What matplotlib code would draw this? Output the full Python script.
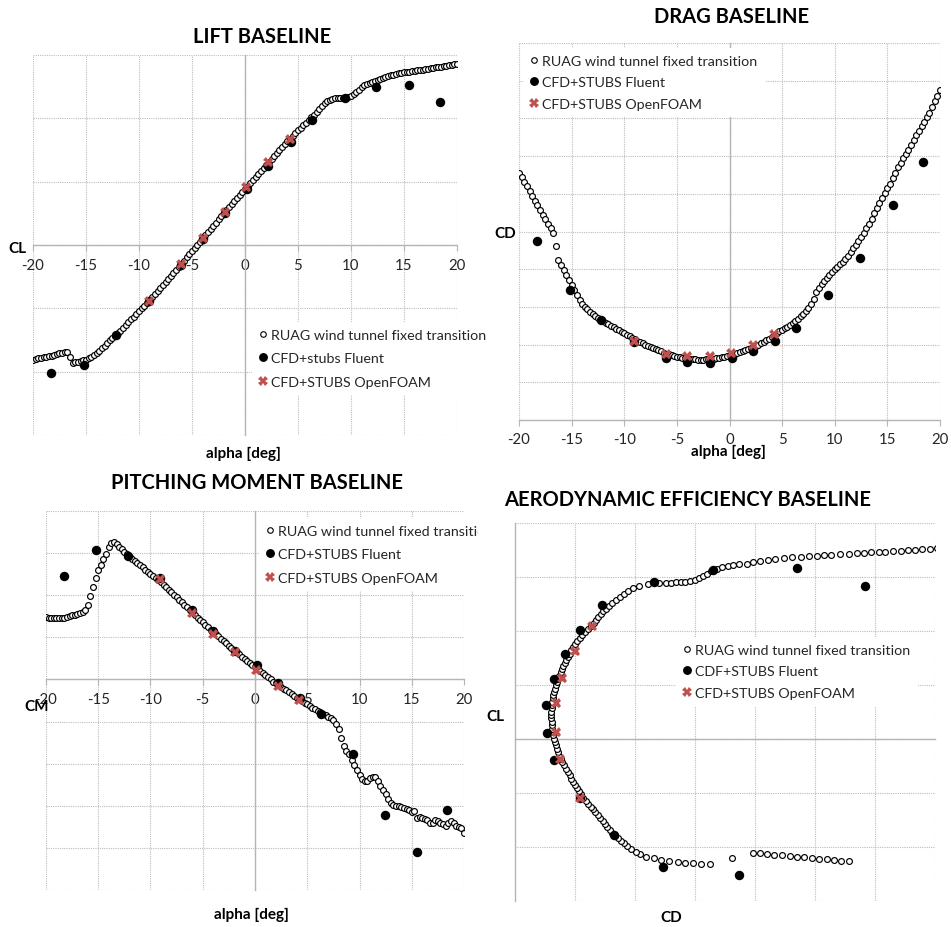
import numpy as np
import matplotlib
matplotlib.use("Agg")
import matplotlib.pyplot as plt
from matplotlib.transforms import Bbox
from matplotlib.lines import Line2D

plt.rcParams['font.family'] = ['Lato', 'DejaVu Sans']
plt.rcParams['axes.unicode_minus'] = False

# wind tunnel sweep (RUAG, fixed transition)
alpha = [-20.0, -19.75, -19.5, -19.25, -19.0, -18.75, -18.5, -18.25, -18.0, -17.75,
         -17.5, -17.25, -17.0, -16.75, -16.5, -16.25, -16.0, -15.75, -15.5, -15.25,
         -15.0, -14.75, -14.5, -14.25, -14.0, -13.75, -13.5, -13.25, -13.0, -12.75,
         -12.5, -12.25, -12.0, -11.75, -11.5, -11.25, -11.0, -10.75, -10.5, -10.25,
         -10.0, -9.75, -9.5, -9.25, -9.0, -8.75, -8.5, -8.25, -8.0, -7.75,
         -7.5, -7.25, -7.0, -6.75, -6.5, -6.25, -6.0, -5.75, -5.5, -5.25,
         -5.0, -4.75, -4.5, -4.25, -4.0, -3.75, -3.5, -3.25, -3.0, -2.75,
         -2.5, -2.25, -2.0, -1.75, -1.5, -1.25, -1.0, -0.75, -0.5, -0.25,
         0.0, 0.25, 0.5, 0.75, 1.0, 1.25, 1.5, 1.75, 2.0, 2.25,
         2.5, 2.75, 3.0, 3.25, 3.5, 3.75, 4.0, 4.25, 4.5, 4.75,
         5.0, 5.25, 5.5, 5.75, 6.0, 6.25, 6.5, 6.75, 7.0, 7.25,
         7.5, 7.75, 8.0, 8.25, 8.5, 8.75, 9.0, 9.25, 9.5, 9.75,
         10.0, 10.25, 10.5, 10.75, 11.0, 11.25, 11.5, 11.75, 12.0, 12.25,
         12.5, 12.75, 13.0, 13.25, 13.5, 13.75, 14.0, 14.25, 14.5, 14.75,
         15.0, 15.25, 15.5, 15.75, 16.0, 16.25, 16.5, 16.75, 17.0, 17.25,
         17.5, 17.75, 18.0, 18.25, 18.5, 18.75, 19.0, 19.25, 19.5, 19.75,
         20.0]

cl = [-0.905, -0.900, -0.896, -0.891, -0.887, -0.882, -0.877, -0.873, -0.868, -0.862,
      -0.856, -0.851, -0.846, -0.843, -0.885, -0.928, -0.925, -0.921, -0.916, -0.911,
      -0.905, -0.896, -0.885, -0.871, -0.855, -0.836, -0.815, -0.794, -0.772, -0.752,
      -0.733, -0.715, -0.697, -0.675, -0.653, -0.632, -0.610, -0.588, -0.566, -0.544,
      -0.522, -0.500, -0.479, -0.457, -0.435, -0.411, -0.388, -0.364, -0.340, -0.316,
      -0.293, -0.269, -0.245, -0.221, -0.196, -0.172, -0.148, -0.123, -0.098, -0.073,
      -0.048, -0.023, 0.002, 0.026, 0.051, 0.076, 0.101, 0.127, 0.152, 0.177,
      0.202, 0.227, 0.252, 0.277, 0.301, 0.326, 0.350, 0.374, 0.398, 0.421,
      0.445, 0.469, 0.493, 0.516, 0.540, 0.563, 0.587, 0.610, 0.633, 0.656,
      0.680, 0.703, 0.726, 0.749, 0.772, 0.795, 0.818, 0.840, 0.862, 0.884,
      0.905, 0.925, 0.945, 0.965, 0.985, 1.007, 1.030, 1.052, 1.075, 1.098,
      1.120, 1.136, 1.148, 1.154, 1.157, 1.159, 1.160, 1.162, 1.165, 1.170,
      1.178, 1.190, 1.205, 1.225, 1.245, 1.260, 1.272, 1.281, 1.288, 1.294,
      1.300, 1.309, 1.318, 1.326, 1.333, 1.339, 1.345, 1.350, 1.354, 1.358,
      1.362, 1.365, 1.369, 1.372, 1.375, 1.378, 1.382, 1.385, 1.388, 1.392,
      1.396, 1.399, 1.403, 1.406, 1.409, 1.413, 1.416, 1.420, 1.423, 1.426,
      1.430]

cd = [0.0656, 0.0644, 0.0632, 0.0620, 0.0607, 0.0595, 0.0582, 0.0570, 0.0558, 0.0545,
      0.0532, 0.0520, 0.0508, 0.0497, 0.0461, 0.0425, 0.0410, 0.0397, 0.0384, 0.0371,
      0.0357, 0.0344, 0.0331, 0.0319, 0.0309, 0.0301, 0.0294, 0.0287, 0.0281, 0.0276,
      0.0271, 0.0266, 0.0262, 0.0258, 0.0254, 0.0250, 0.0246, 0.0242, 0.0238, 0.0234,
      0.0230, 0.0226, 0.0222, 0.0218, 0.0214, 0.0210, 0.0206, 0.0203, 0.0200, 0.0197,
      0.0194, 0.0191, 0.0188, 0.0185, 0.0182, 0.0179, 0.0176, 0.0174, 0.0172, 0.0170,
      0.0168, 0.0166, 0.0165, 0.0164, 0.0163, 0.0162, 0.0161, 0.0161, 0.0160, 0.0160,
      0.0160, 0.0161, 0.0161, 0.0162, 0.0163, 0.0164, 0.0165, 0.0167, 0.0168, 0.0170,
      0.0172, 0.0174, 0.0176, 0.0178, 0.0180, 0.0183, 0.0185, 0.0188, 0.0191, 0.0194,
      0.0197, 0.0200, 0.0204, 0.0208, 0.0212, 0.0216, 0.0221, 0.0226, 0.0231, 0.0235,
      0.0239, 0.0243, 0.0247, 0.0252, 0.0257, 0.0262, 0.0268, 0.0275, 0.0282, 0.0289,
      0.0297, 0.0307, 0.0322, 0.0340, 0.0351, 0.0360, 0.0368, 0.0376, 0.0384, 0.0392,
      0.0400, 0.0406, 0.0413, 0.0420, 0.0427, 0.0436, 0.0445, 0.0455, 0.0464, 0.0474,
      0.0486, 0.0497, 0.0509, 0.0521, 0.0534, 0.0548, 0.0562, 0.0576, 0.0590, 0.0603,
      0.0615, 0.0627, 0.0641, 0.0656, 0.0670, 0.0682, 0.0694, 0.0706, 0.0717, 0.0730,
      0.0743, 0.0755, 0.0767, 0.0779, 0.0791, 0.0803, 0.0815, 0.0829, 0.0845, 0.0860,
      0.0875]

cm = [0.0148, 0.0147, 0.0147, 0.0146, 0.0146, 0.0146, 0.0147, 0.0147, 0.0148, 0.0150,
      0.0152, 0.0153, 0.0155, 0.0157, 0.0160, 0.0166, 0.0176, 0.0198, 0.0220, 0.0240,
      0.0260, 0.0272, 0.0286, 0.0298, 0.0314, 0.0325, 0.0327, 0.0321, 0.0315, 0.0309,
      0.0303, 0.0297, 0.0291, 0.0286, 0.0281, 0.0276, 0.0271, 0.0266, 0.0261, 0.0256,
      0.0251, 0.0246, 0.0241, 0.0236, 0.0231, 0.0225, 0.0219, 0.0213, 0.0207, 0.0201,
      0.0195, 0.0189, 0.0183, 0.0177, 0.0171, 0.0165, 0.0159, 0.0153, 0.0147, 0.0141,
      0.0136, 0.0130, 0.0124, 0.0118, 0.0112, 0.0107, 0.0102, 0.0096, 0.0091, 0.0086,
      0.0080, 0.0075, 0.0070, 0.0065, 0.0060, 0.0054, 0.0049, 0.0044, 0.0039, 0.0034,
      0.0029, 0.0024, 0.0019, 0.0015, 0.0010, 0.0005, 0.0000, -0.0005, -0.0009, -0.0014,
      -0.0018, -0.0022, -0.0026, -0.0030, -0.0035, -0.0039, -0.0043, -0.0047, -0.0051, -0.0055,
      -0.0059, -0.0063, -0.0067, -0.0070, -0.0074, -0.0078, -0.0081, -0.0085, -0.0088, -0.0092,
      -0.0097, -0.0106, -0.0118, -0.0138, -0.0158, -0.0169, -0.0178, -0.0192, -0.0203, -0.0215,
      -0.0227, -0.0237, -0.0242, -0.0240, -0.0235, -0.0231, -0.0232, -0.0240, -0.0252, -0.0263,
      -0.0273, -0.0284, -0.0293, -0.0298, -0.0300, -0.0301, -0.0304, -0.0306, -0.0308, -0.0311,
      -0.0315, -0.0313, -0.0329, -0.0327, -0.0329, -0.0331, -0.0334, -0.0342, -0.0340, -0.0333,
      -0.0336, -0.0340, -0.0343, -0.0347, -0.0342, -0.0337, -0.0342, -0.0348, -0.0350, -0.0352,
      -0.0364]

# CFD + stubs, Fluent
alpha_fl = [-18.3, -15.2, -12.2, -9.1, -6.0, -4.0, -1.9, 0.2, 2.2, 4.3, 6.3, 9.4, 12.4, 15.5, 18.4]
cl_fl = [-1.01, -0.95, -0.71, -0.44, -0.155, 0.045, 0.255, 0.445, 0.626, 0.81, 0.99, 1.163, 1.25, 1.263, 1.13]
cd_fl = [0.0474, 0.0346, 0.0265, 0.0208, 0.0165, 0.0153, 0.0152, 0.0165, 0.0183, 0.0209,
         0.0245, 0.0332, 0.0430, 0.0570, 0.0684]
cm_fl = [0.0245, 0.0307, 0.0293, 0.0242, 0.0165, 0.0114, 0.0067, 0.0034, -0.0009, -0.0043,
         -0.0081, -0.0176, -0.0323, -0.0409, -0.0309]

# CFD + stubs, OpenFOAM
alpha_of = [-9.1, -6.0, -4.0, -1.9, 0.1, 2.2, 4.2]
cl_of = [-0.44, -0.15, 0.053, 0.263, 0.455, 0.653, 0.837]
cd_of = [0.0209, 0.0175, 0.0169, 0.0169, 0.0178, 0.0200, 0.0229]
cm_of = [0.0238, 0.0158, 0.0109, 0.0065, 0.0022, -0.0016, -0.0049]

assert len(alpha) == len(cl) == len(cd) == len(cm), (len(alpha), len(cl), len(cd), len(cm))

alpha_ticks = [-20, -15, -10, -5, 0, 5, 10, 15, 20]

W, H = 951, 928
fig = plt.figure(figsize=(W / 100, H / 100), dpi=100)

def box(l, t, r, b):
    return [l / W, 1 - b / H, (r - l) / W, (b - t) / H]

def fxy(x, y):
    return (x / W, 1 - y / H)

GRID = '#bdbdbd'
AXC = '#b5b5b5'
TXT = '#262626'
RED = '#c0504d'
FS = 10.3

def style(ax, xlim, ylim, xt, yt, x0, y0, labels=True):
    ax.set_xlim(*xlim)
    ax.set_ylim(*ylim)
    ax.set_xticks(xt)
    ax.set_yticks(yt)
    ax.set_axisbelow(True)
    ax.grid(True, color=GRID, lw=0.8, ls=(0, (1, 1)))
    ax.spines['top'].set_visible(False)
    ax.spines['right'].set_visible(False)
    ax.spines['left'].set_position(('data', x0))
    ax.spines['bottom'].set_position(('data', y0))
    for s in ('left', 'bottom'):
        ax.spines[s].set_color(AXC)
        ax.spines[s].set_linewidth(1.0)
    ax.tick_params(axis='y', length=0, labelleft=False)
    if labels:
        ax.tick_params(axis='x', direction='out', length=4, color=AXC, width=0.8,
                       labelsize=10.8, labelcolor=TXT, pad=5)
    else:
        ax.tick_params(axis='x', length=0, labelbottom=False)

def plot_sets(ax, x1, y1, x2, y2, x3, y3):
    ax.plot(x1, y1, ls='none', marker='o', ms=4.2, mfc='white', mec='black', mew=0.85, zorder=3)
    ax.plot(x2, y2, ls='none', marker='o', ms=6.8, mfc='black', mec='black', mew=0, zorder=4)
    ax.plot(x3, y3, ls='none', marker='X', ms=7.2, mfc=RED, mec=RED, mew=0, zorder=5)

def add_legend(ax, labels, x, y, spacing):
    handles = [Line2D([], [], ls='none', marker='o', ms=4.0, mfc='white', mec='black', mew=0.8),
               Line2D([], [], ls='none', marker='o', ms=6.4, mfc='black', mew=0),
               Line2D([], [], ls='none', marker='X', ms=7, mfc=RED, mec=RED, mew=0)]
    leg = ax.legend(handles, labels, loc='upper left', bbox_to_anchor=fxy(x, y),
                    bbox_transform=fig.transFigure, borderaxespad=0, frameon=True,
                    fancybox=False, framealpha=1, facecolor='white', edgecolor='none',
                    fontsize=FS, handlelength=0.6, handletextpad=0.25,
                    labelspacing=spacing, borderpad=0.5)
    for t in leg.get_texts():
        t.set_color(TXT)
    leg.set_zorder(6)
    return leg

def label(x, y, s, size=11, weight='bold'):
    fig.text(*fxy(x, y), s, ha='center', va='center', fontsize=size,
             fontweight=weight, color='black')

# LIFT
ax1 = fig.add_axes(box(33, 56, 457, 436))
style(ax1, (-20, 20), (-1.5, 1.5), alpha_ticks, [-1.5, -1.0, -0.5, 0, 0.5, 1.0, 1.5], 0, 0)
plot_sets(ax1, alpha, cl, alpha_fl, cl_fl, alpha_of, cl_of)
add_legend(ax1, ['RUAG wind tunnel fixed transition', 'CFD+stubs Fluent', 'CFD+STUBS OpenFOAM'],
           252, 322.5, 0.82)
label(262, 37, 'LIFT BASELINE', size=14.5)
label(17, 249, 'CL')
label(243, 454, 'alpha [deg]')

# DRAG
ax2 = fig.add_axes(box(519, 44, 940, 421))
style(ax2, (-20, 20), (0, 0.10), alpha_ticks,
      [0, 0.01, 0.02, 0.03, 0.04, 0.05, 0.06, 0.07, 0.08, 0.09, 0.10], 0, 0)
plot_sets(ax2, alpha, cd, alpha_fl, cd_fl, alpha_of, cd_of)
add_legend(ax2, ['RUAG wind tunnel fixed transition', 'CFD+STUBS Fluent', 'CFD+STUBS OpenFOAM'],
           523, 48.5, 0.68)
label(732, 17, 'DRAG BASELINE', size=14.5)
label(505, 234, 'CD')
label(728, 452, 'alpha [deg]')

# PITCHING MOMENT
ax3 = fig.add_axes(box(46, 512, 464, 891))
style(ax3, (-20, 20), (-0.05, 0.04), alpha_ticks,
      [-0.05, -0.04, -0.03, -0.02, -0.01, 0, 0.01, 0.02, 0.03, 0.04], 0, 0)
plot_sets(ax3, alpha, cm, alpha_fl, cm_fl, alpha_of, cm_of)
leg3 = add_legend(ax3, ['RUAG wind tunnel fixed transition', 'CFD+STUBS Fluent', 'CFD+STUBS OpenFOAM'],
                  259, 518.5, 0.82)
for t in leg3.get_texts():
    t.set_clip_box(Bbox.from_extents(0, 0, 478, H))
    t.set_clip_on(True)
label(257, 483, 'PITCHING MOMENT BASELINE', size=14.5)
label(37, 707, 'CM')
label(251, 915, 'alpha [deg]')

# AERODYNAMIC EFFICIENCY (polar)
ax4 = fig.add_axes(box(515, 524, 935, 902))
style(ax4, (0.01, 0.08), (-1.2, 1.6), [0.01, 0.02, 0.03, 0.04, 0.05, 0.06, 0.07, 0.08],
      [-1.2, -0.8, -0.4, 0, 0.4, 0.8, 1.2, 1.6], 0.01, 0, labels=False)
plot_sets(ax4, cd, cl, cd_fl, cl_fl, cd_of, cl_of)
add_legend(ax4, ['RUAG wind tunnel fixed transition', 'CDF+STUBS Fluent', 'CFD+STUBS OpenFOAM'],
           676, 637.5, 0.66)
label(688, 500, 'AERODYNAMIC EFFICIENCY BASELINE', size=14.5)
label(495, 717, 'CL')
label(671, 918, 'CD')

fig.savefig('out.png', dpi=100, facecolor='white')
